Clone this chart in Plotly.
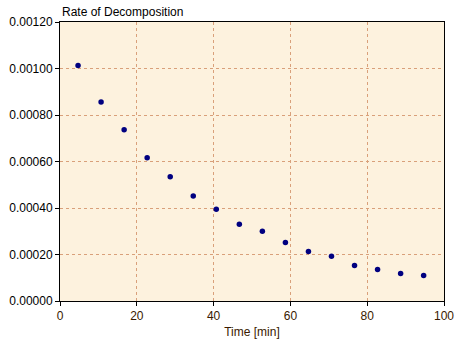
import plotly.graph_objects as go

time_min = [4.7, 10.7, 16.7, 22.7, 28.7, 34.7, 40.7, 46.7, 52.7, 58.7, 64.7, 70.7, 76.7, 82.7, 88.7, 94.7]
rate = [0.001013, 0.000856, 0.000737, 0.000616, 0.000534, 0.000452, 0.000395, 0.000330,
        0.000300, 0.000252, 0.000213, 0.000192, 0.000153, 0.000136, 0.000118, 0.000110]
x_ticks = [0, 20, 40, 60, 80, 100]
y_ticks = [0.0, 0.0002, 0.0004, 0.0006, 0.0008, 0.0010, 0.0012]
y_tick_text = ["0.00000", "0.00020", "0.00040", "0.00060", "0.00080", "0.00100", "0.00120"]

fig = go.Figure()
fig.add_trace(go.Scatter(
    x=time_min, y=rate, mode="markers",
    marker=dict(color="#000080", size=5.5, line=dict(width=0)),
    showlegend=False,
))

font = "Liberation Sans, Arial, sans-serif"
fig.update_layout(
    width=460, height=341,
    margin=dict(l=60, r=16, t=22, b=40, autoexpand=False),
    paper_bgcolor="white",
    plot_bgcolor="#FDF2DE",
    font=dict(family=font, size=12, color="black"),
    xaxis=dict(
        range=[0, 100], tickvals=x_ticks, ticktext=[str(v) for v in x_ticks],
        showline=True, linecolor="black", linewidth=1, mirror=True,
        ticks="outside", ticklen=4, tickcolor="black",
        showgrid=True, gridcolor="#D9A07A", griddash="3px,3px", gridwidth=1,
        zeroline=False, automargin=False,
        tickfont=dict(color="#3A1A00", size=12, family=font),
        title=dict(text="Time [min]", font=dict(color="#3A1A00", size=12, family=font), standoff=5),
    ),
    yaxis=dict(
        range=[0, 0.0012], tickvals=y_ticks, ticktext=y_tick_text,
        showline=True, linecolor="black", linewidth=1, mirror=True,
        ticks="outside", ticklen=4, tickcolor="black",
        showgrid=True, gridcolor="#D9A07A", griddash="3px,3px", gridwidth=1,
        zeroline=False, automargin=False,
        tickfont=dict(color="black", size=12, family=font),
    ),
    annotations=[dict(
        text="Rate of Decomposition", x=0, y=1, xref="paper", yref="paper",
        xanchor="left", yanchor="bottom", yshift=1, showarrow=False,
        font=dict(color="black", size=12, family=font),
    )],
)

fig.write_html("out.html")
